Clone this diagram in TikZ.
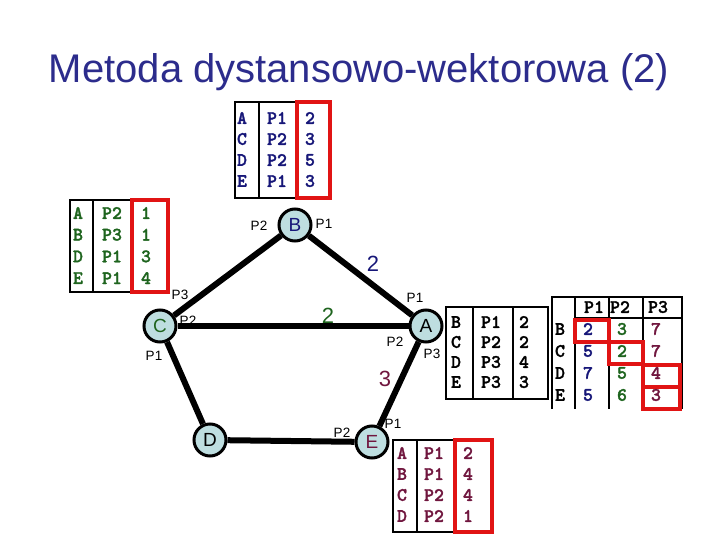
\documentclass[tikz,border=0pt]{standalone}
\usepackage{fontspec}
\setmainfont{Liberation Sans}
\newfontfamily\tabfont{lmmonolt10-bold}[Extension=.otf, FakeBold=1.6]
\definecolor{titleblue}{RGB}{44,44,140}
\definecolor{nodefill}{RGB}{190,222,224}
\definecolor{navyt}{RGB}{22,22,120}
\definecolor{greent}{RGB}{30,100,30}
\definecolor{maroont}{RGB}{112,22,62}
\definecolor{boxred}{RGB}{225,20,20}
\tikzset{
  router/.style={circle, draw=black, line width=3pt, fill=nodefill, minimum size=32pt, inner sep=0pt, font=\fontsize{19}{19}\selectfont},
  link/.style={line width=6pt},
  port/.style={font=\fontsize{13.5}{14}\selectfont, inner sep=0pt},
  cost/.style={font=\fontsize{22}{22}\selectfont, inner sep=0pt},
  tab/.style={font=\tabfont\fontsize{19}{19}\selectfont, inner sep=0pt},
  tabline/.style={draw=black, line width=2.5pt},
  redbox/.style={draw=boxred, line width=4pt}
}
\begin{document}
\begin{tikzpicture}[x=1pt,y=-1pt]
\useasboundingbox (0,0) rectangle (720,540);
% title
\node[font=\fontsize{40}{40}\selectfont, text=titleblue, anchor=base, inner sep=0pt] (title) at (359,83) {Metoda dystansowo-wektorowa (2)};
% routers
\node[router, text=navyt] (B) at (295,225) {B};
\node[router, text=greent] (C) at (160,326) {C};
\node[router] (A) at (426,326) {A};
\node[router] (D) at (210,440) {D};
\node[router, text=maroont] (E) at (372,442) {E};
% links
\draw[link] (B) -- (C);
\draw[link] (B) -- (A);
\draw[link] (C) -- (A);
\draw[link] (C) -- (D);
\draw[link] (D) -- (E);
\draw[link] (A) -- (E);
% costs
\node[cost, text=navyt] (c1) at (373,264) {2};
\node[cost, text=greent] (c2) at (328,316) {2};
\node[cost, text=maroont] (c3) at (385,379) {3};
% ports
\node[port] (bp2) at (259,226) {P2};
\node[port] (bp1) at (324,224) {P1};
\node[port] (cp3) at (180,295) {P3};
\node[port] (cp2) at (188,321) {P2};
\node[port] (cp1) at (154,356) {P1};
\node[port] (ap1) at (415,298) {P1};
\node[port] (ap2) at (395,342) {P2};
\node[port] (ap3) at (432,354) {P3};
\node[port] (ep2) at (342,433) {P2};
\node[port] (ep1) at (393,424) {P1};
% table of B
\draw[tabline] (235,102) rectangle (297,198);
\draw[tabline] (259,102) -- (259,198);
\draw[redbox] (297,102) rectangle (330,198);
\foreach \xa/\xb/\xc [count=\i] in {A/P1/2, C/P2/3, D/P2/5, E/P1/3}{
  \node[tab, text=navyt] (bta\i) at (242,{118+21*(\i-1)}) {\xa};
  \node[tab, text=navyt] (btb\i) at (277,{118+21*(\i-1)}) {\xb};
  \node[tab, text=navyt] (btc\i) at (310,{118+21*(\i-1)}) {\xc};
}
% table of C
\draw[tabline] (70,200) rectangle (132,292);
\draw[tabline] (93,200) -- (93,292);
\draw[redbox] (132,200) rectangle (168,292);
\foreach \xa/\xb/\xc [count=\i] in {A/P2/1, B/P3/1, D/P1/3, E/P1/4}{
  \node[tab, text=greent] (cta\i) at (78,{213+21.7*(\i-1)}) {\xa};
  \node[tab, text=greent] (ctb\i) at (112,{213+21.7*(\i-1)}) {\xb};
  \node[tab, text=greent] (ctc\i) at (146,{213+21.7*(\i-1)}) {\xc};
}
% table of A
\draw[tabline] (446,307) rectangle (548,399);
\draw[tabline] (473,307) -- (473,399);
\draw[tabline] (513,307) -- (513,399);
\foreach \xa/\xb/\xc [count=\i] in {B/P1/2, C/P2/2, D/P3/4, E/P3/3}{
  \node[tab] (ata\i) at (456,{322+20*(\i-1)}) {\xa};
  \node[tab] (atb\i) at (491,{322+20*(\i-1)}) {\xb};
  \node[tab] (atc\i) at (524,{322+20*(\i-1)}) {\xc};
}
% table of E
\draw[tabline] (393,440) rectangle (455,532);
\draw[tabline] (417,440) -- (417,532);
\draw[redbox] (455,440) rectangle (492,532);
\foreach \xa/\xb/\xc [count=\i] in {A/P1/2, B/P1/4, C/P2/4, D/P2/1}{
  \node[tab, text=maroont] (eta\i) at (402,{453+21*(\i-1)}) {\xa};
  \node[tab, text=maroont] (etb\i) at (434,{453+21*(\i-1)}) {\xb};
  \node[tab, text=maroont] (etc\i) at (468,{453+21*(\i-1)}) {\xc};
}
% distance matrix
\draw[tabline] (552,409) -- (552,297) -- (682,297) -- (682,409);
\draw[tabline] (575,297) -- (575,409);
\draw[tabline] (609,297) -- (609,409);
\draw[tabline] (643,297) -- (643,409);
\draw[tabline] (575,318) -- (682,318);
\draw[redbox] (575,320) rectangle (609,342);
\draw[redbox] (609,342) rectangle (643,364);
\draw[redbox] (643,365) rectangle (680,387);
\draw[redbox] (643,387) rectangle (680,409);
\node[tab] (h1) at (594,307) {P1};
\node[tab] (h2) at (620,307) {P2};
\node[tab] (h3) at (658,307) {P3};
\foreach \xr/\xa/\xb/\xc [count=\i] in {B/2/3/7, C/5/2/7, D/7/5/4, E/5/6/3}{
  \node[tab] (mr\i) at (560,{329+22*(\i-1)}) {\xr};
  \node[tab, text=navyt] (ma\i) at (588,{329+22*(\i-1)}) {\xa};
  \node[tab, text=greent] (mb\i) at (622,{329+22*(\i-1)}) {\xb};
  \node[tab, text=maroont] (mc\i) at (656,{329+22*(\i-1)}) {\xc};
}
\end{tikzpicture}
\end{document}
